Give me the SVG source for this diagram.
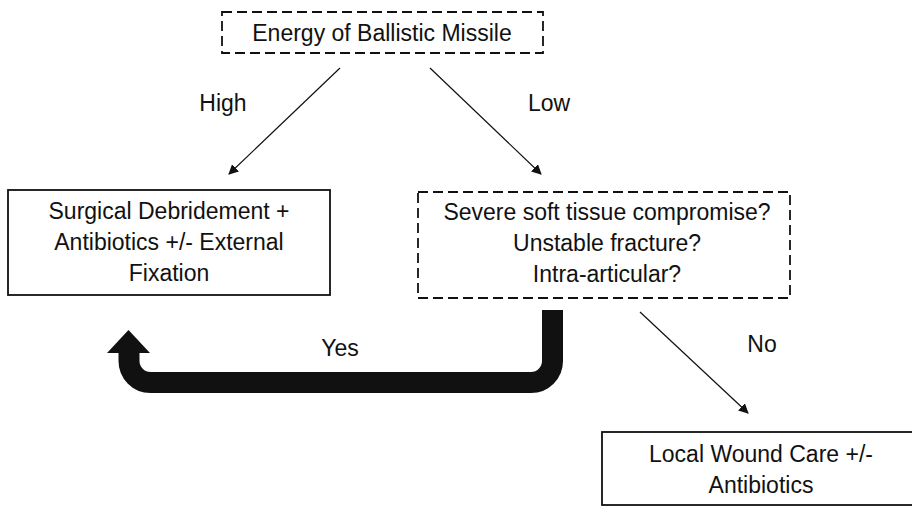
<svg xmlns="http://www.w3.org/2000/svg" width="912" height="506" viewBox="0 0 912 506">
<style>
text{font-family:"Liberation Sans",Arial,sans-serif;font-size:23px;fill:#111;text-anchor:middle}
.box{fill:#fff;stroke:#111;stroke-width:1.8}
.dash{stroke-dasharray:10 5}
.thin{stroke:#111;stroke-width:1.2;fill:none}
</style>
<defs>
<marker id="ah" viewBox="0 0 10 10" refX="9" refY="5" markerWidth="10" markerHeight="10" markerUnits="userSpaceOnUse" orient="auto">
<path d="M0,0 L10,5 L0,10 z" fill="#111"/>
</marker>
</defs>
<rect width="912" height="506" fill="#fff"/>
<g id="energy">
<rect class="box dash" x="222" y="12" width="321" height="41"/>
<text x="382" y="41">Energy of Ballistic Missile</text>
</g>
<g id="surgical">
<rect class="box" x="8" y="190" width="322" height="105"/>
<text x="169" y="219">Surgical Debridement +</text>
<text x="169" y="250">Antibiotics +/- External</text>
<text x="169" y="281">Fixation</text>
</g>
<g id="severe">
<rect class="box dash" x="418" y="192" width="372" height="106"/>
<text x="607" y="220">Severe soft tissue compromise?</text>
<text x="607" y="251">Unstable fracture?</text>
<text x="607" y="282">Intra-articular?</text>
</g>
<g id="local">
<rect class="box" x="602" y="432" width="320" height="73"/>
<text x="761" y="462">Local Wound Care +/-</text>
<text x="761" y="493">Antibiotics</text>
</g>
<g id="connectors">
<line class="thin" x1="340" y1="68" x2="229" y2="174" marker-end="url(#ah)"/>
<line class="thin" x1="430" y1="68" x2="541" y2="174" marker-end="url(#ah)"/>
<line class="thin" x1="640" y1="312" x2="748" y2="413" marker-end="url(#ah)"/>
<path d="M552.5,310 V361 A21.5,21.5 0 0 1 531,382.5 H150.5 A21.5,21.5 0 0 1 129,361 V351" fill="none" stroke="#111" stroke-width="21"/>
<polygon points="107,353 150,353 128.5,330" fill="#111"/>
<text x="223" y="111">High</text>
<text x="549" y="111">Low</text>
<text x="340" y="356">Yes</text>
<text x="762" y="352">No</text>
</g>
</svg>
